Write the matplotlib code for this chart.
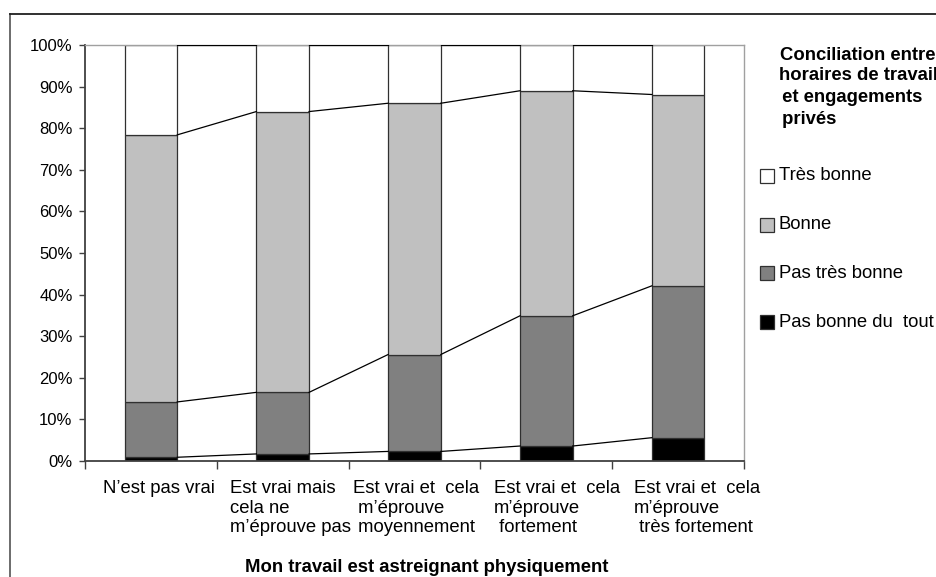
import matplotlib.pyplot as plt
import numpy as np
from matplotlib.patches import Rectangle
from matplotlib.lines import Line2D

plt.rcParams['font.family'] = ['Liberation Sans', 'DejaVu Sans']

# categories (x axis) and answers (stack order, bottom to top)
categories = ["N’est pas vrai",
              "Est vrai mais\ncela ne\nm’éprouve pas",
              "Est vrai et  cela\n m’éprouve\n moyennement",
              "Est vrai et  cela\nm’éprouve\n fortement",
              "Est vrai et  cela\nm’éprouve\n très fortement"]
series = ["Pas bonne du  tout", "Pas très bonne", "Bonne", "Très bonne"]

pas_bonne_du_tout = [0.9, 1.7, 2.3, 3.6, 5.6]
pas_tres_bonne = [13.3, 14.8, 23.3, 31.3, 36.5]
bonne = [64.2, 67.5, 60.4, 54.1, 46.0]
tres_bonne = [21.6, 16.0, 14.0, 11.0, 11.9]

colors = ["#000000", "#808080", "#c0c0c0", "#ffffff"]
values = [pas_bonne_du_tout, pas_tres_bonne, bonne, tres_bonne]

fig = plt.figure(figsize=(9.36, 5.77), dpi=100)
W, H = 936, 577
ax = fig.add_axes([85 / W, (H - 461) / H, (744 - 85) / W, (461 - 45) / H])

x = np.arange(len(categories))
bw = 0.4
bottom = np.zeros(len(categories))
for vals, col in zip(values, colors):
    v = np.array(vals) / 100
    ax.bar(x, v, bw, bottom=bottom, color=col, edgecolor="#303030", linewidth=0.9, zorder=2)
    bottom = bottom + v
    # series lines joining the tops of each segment
    for i in range(len(x) - 1):
        ax.plot([x[i] + bw / 2, x[i + 1] - bw / 2], [bottom[i], bottom[i + 1]],
                color="black", lw=0.9, zorder=3)

ax.set_xlim(-0.5, len(categories) - 0.5)
ax.set_ylim(0, 1)
ax.set_yticks(np.arange(0, 1.01, 0.1))
ax.set_yticklabels([f"{int(round(t * 100))}%" for t in np.arange(0, 1.01, 0.1)])
ax.set_xticks(np.arange(-0.5, len(categories), 1.0))
ax.set_xticklabels([])
ax.tick_params(axis='y', direction='out', length=4, width=1, color="#404040",
               labelsize=12, pad=5)
ax.tick_params(axis='x', direction='out', length=6, width=1, color="#404040")

for s in ['top', 'right']:
    ax.spines[s].set_color("#a0a0a0")
    ax.spines[s].set_linewidth(1)
for s in ['left', 'bottom']:
    ax.spines[s].set_color("#404040")
    ax.spines[s].set_linewidth(1.3)

# category labels, left-aligned blocks under each bar
label_shift = [-0.363, -0.40, -0.467, -0.397, -0.335]
for i, lab in enumerate(categories):
    ax.text(x[i] + label_shift[i], -0.045, lab, transform=ax.get_xaxis_transform(),
            ha='left', va='top', multialignment='left', fontsize=13.3, linespacing=1.22)

fig.text(427 / W, (H - 568) / H, "Mon travail est astreignant physiquement",
         ha='center', va='center', fontsize=13.3, fontweight='bold')

# legend title
title_lines = [("Conciliation entre", 780, 55), ("horaires de travail", 779, 76),
               (" et engagements", 777, 97), (" privés", 777, 120)]
for txt, px, py in title_lines:
    fig.text(px / W, (H - py) / H, txt, ha='left', va='center',
             fontsize=13.3, fontweight='bold')

# legend entries, top to bottom
for k, (name, col) in enumerate(zip(series[::-1], colors[::-1])):
    cy = 176 + k * 48.7
    fig.add_artist(Rectangle((760 / W, (H - cy - 7) / H), 14 / W, 14 / H,
                             transform=fig.transFigure, facecolor=col,
                             edgecolor="#303030", linewidth=0.9))
    fig.text(779 / W, (H - cy) / H, name, ha='left', va='center', fontsize=13.3)

# chart frame, running off the right and bottom edges
fig.add_artist(Line2D([10 / W, 10 / W], [0, (H - 14) / H], transform=fig.transFigure,
                      color="#606060", lw=1.3))
fig.add_artist(Line2D([10 / W, 1], [(H - 14) / H, (H - 14) / H], transform=fig.transFigure,
                      color="#202020", lw=1.3))

fig.savefig("out.png", dpi=100)
